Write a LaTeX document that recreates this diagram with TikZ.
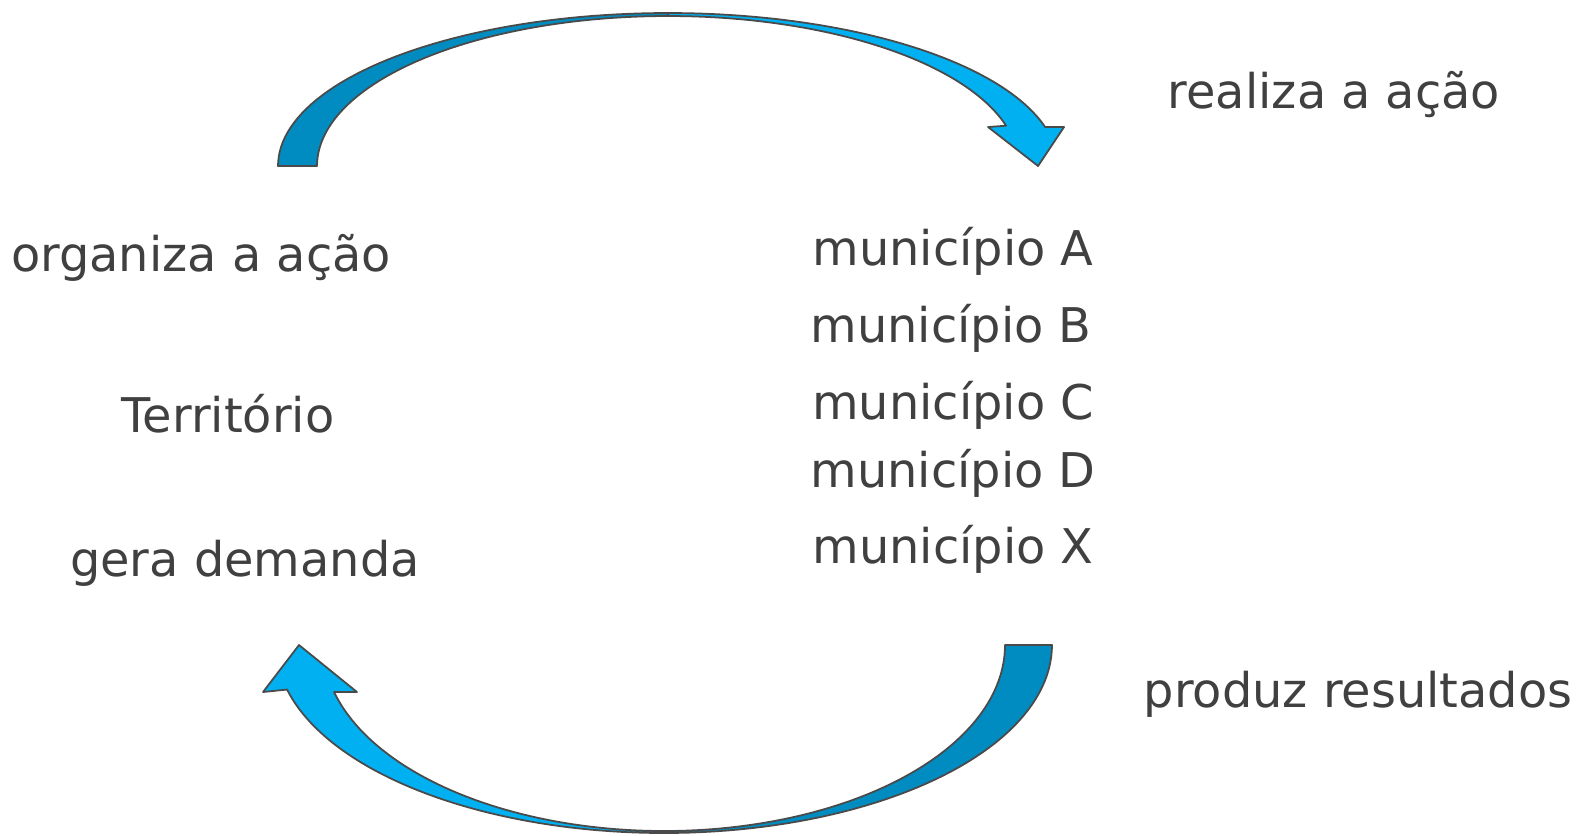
\documentclass[tikz,border=0pt]{standalone}
\usepackage{fontspec}
\setmainfont{DejaVu Sans}
\definecolor{TextGray}{HTML}{404040}
\definecolor{DarkBlue}{HTML}{008CC0}
\definecolor{LightBlue}{HTML}{00B0F0}
\definecolor{EdgeGray}{HTML}{4A4A4A}

\begin{document}
\begin{tikzpicture}[x=0.01cm,y=-0.01cm]

\tikzset{
  TextStyle/.style = { anchor=base, inner sep=0pt, text=TextGray,
                       font = \fontsize{13.6}{16}\selectfont },
  DarkBand/.style = { fill=DarkBlue, draw=EdgeGray, line width=0.5pt, line join=round },
  LightBand/.style = { fill=LightBlue, draw=EdgeGray, line width=0.5pt, line join=round } }

  \useasboundingbox (0,0) rectangle (1583,835);

  % upper arrow
  \fill[DarkBand] plot[domain=180:90, samples=50] ({668+390*cos(\x)},{166-153*sin(\x)})
    -- plot[domain=90:180, samples=50] ({668+351*cos(\x)},{166-150*sin(\x)}) -- cycle;
  \fill[LightBand] plot[domain=90:14.8, samples=50] ({668+390*cos(\x)},{166-153*sin(\x)})
    -- (1064,127) -- (1038,166) -- (988,127)
    -- plot[domain=15.6:90, samples=50] ({668+351*cos(\x)},{166-150*sin(\x)}) -- cycle;

  % lower arrow
  \fill[DarkBand] plot[domain=0:90, samples=50] ({664+388*cos(\x)},{645+188*sin(\x)})
    -- plot[domain=90:0, samples=50] ({664+341*cos(\x)},{645+186*sin(\x)}) -- cycle;
  \fill[LightBand] plot[domain=90:166.3, samples=50] ({664+388*cos(\x)},{645+188*sin(\x)})
    -- (263,692) -- (299,645) -- (357,692)
    -- plot[domain=165.4:90, samples=50] ({664+341*cos(\x)},{645+186*sin(\x)}) -- cycle;

  \node[TextStyle] (realiza) at (1334,108) {realiza a ação};
  \node[TextStyle] (organiza) at (201,271) {organiza a ação};
  \node[TextStyle] (territorio) at (228,432) {Território};
  \node[TextStyle] (gera) at (245,576) {gera demanda};
  \node[TextStyle] (produz) at (1358,707) {produz resultados};

  \node[TextStyle] (munA) at (953,265) {município A};
  \node[TextStyle] (munB) at (951,342) {município B};
  \node[TextStyle] (munC) at (953,419) {município C};
  \node[TextStyle] (munD) at (953,487) {município D};
  \node[TextStyle] (munX) at (953,563) {município X};

\end{tikzpicture}
\end{document}
